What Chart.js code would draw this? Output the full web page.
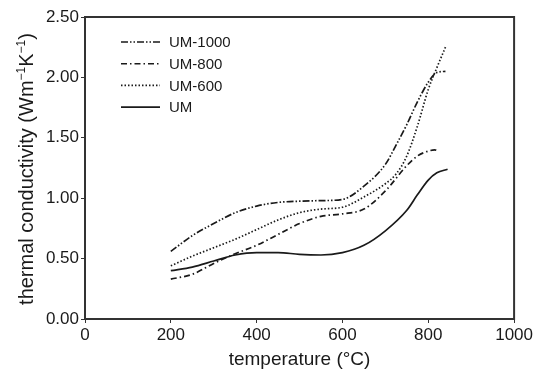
<!DOCTYPE html>
<html>
<head>
<meta charset="utf-8">
<script src="https://cdn.jsdelivr.net/npm/chart.js@4/dist/chart.umd.min.js"></script>
<style>
  html, body { margin: 0; padding: 0; background: #fff; }
  #wrap { width: 535px; height: 371px; }
</style>
</head>
<body>
<div id="wrap"><canvas id="chartTc" width="535" height="371"></canvas></div>
<script>
// Data
const seriesNames = ['UM-1000', 'UM-800', 'UM-600', 'UM'];

const tempUM1000 = [200, 250, 300, 350, 400, 450, 500, 550, 600, 650, 700, 725, 750, 775, 800, 820, 840];
const valsUM1000 = [0.56, 0.69, 0.79, 0.88, 0.935, 0.965, 0.975, 0.98, 0.99, 1.10, 1.28, 1.44, 1.61, 1.80, 1.96, 2.04, 2.05];

const tempUM800 = [200, 250, 300, 350, 400, 450, 500, 550, 600, 650, 700, 750, 775, 800, 815, 825];
const valsUM800 = [0.33, 0.37, 0.46, 0.54, 0.61, 0.70, 0.79, 0.85, 0.87, 0.91, 1.06, 1.27, 1.35, 1.39, 1.40, 1.385];

const tempUM600 = [200, 250, 300, 350, 400, 450, 500, 550, 600, 650, 700, 725, 750, 775, 800, 820, 840];
const valsUM600 = [0.44, 0.52, 0.59, 0.66, 0.74, 0.82, 0.88, 0.91, 0.925, 1.01, 1.12, 1.20, 1.35, 1.60, 1.90, 2.08, 2.25];

const tempUM = [200, 250, 300, 350, 400, 450, 500, 550, 600, 650, 700, 750, 775, 800, 820, 845];
const valsUM = [0.40, 0.43, 0.48, 0.53, 0.55, 0.55, 0.535, 0.53, 0.55, 0.61, 0.73, 0.90, 1.03, 1.15, 1.21, 1.24];

const xTicks = [0, 200, 400, 600, 800, 1000];
const yTicks = [0, 0.5, 1.0, 1.5, 2.0, 2.5];

const toPoints = (xs, ys) => xs.map((x, i) => ({ x: x, y: ys[i] }));

const ink = '#1a1a1a';
const fam = '"Liberation Sans", Arial, sans-serif';
const dashes = [[7, 2, 1.5, 2, 1.5, 2], [6, 3, 1.5, 3], [1.5, 2], []];

// y title with real superscripts: [text, isSuperscript]
const yTitleParts = [['thermal conductivity (Wm', false], ['−1', true], ['K', false], ['−1', true], [')', false]];

// Frame round the plot, the inside legend and the y title
const frameAndLegend = {
    id: 'frameAndLegend',
    afterDraw(chart) {
        const { ctx, chartArea } = chart;
        ctx.save();
        ctx.strokeStyle = '#333';
        ctx.lineWidth = 2;
        ctx.strokeRect(chartArea.left, chartArea.top, chartArea.right - chartArea.left, chartArea.bottom - chartArea.top);

        ctx.font = '15px ' + fam;
        ctx.textBaseline = 'middle';
        ctx.fillStyle = ink;
        chart.data.datasets.forEach((ds, i) => {
            const y = 42 + i * 21.7;
            ctx.beginPath();
            ctx.setLineDash(ds.borderDash);
            ctx.strokeStyle = ink;
            ctx.lineWidth = 1.6;
            ctx.moveTo(121, y);
            ctx.lineTo(160, y);
            ctx.stroke();
            ctx.setLineDash([]);
            ctx.fillText(ds.label, 169, y + 1);
        });

        // y title
        const big = '20px ' + fam, small = '12px ' + fam;
        let total = 0;
        yTitleParts.forEach(([t, sup]) => { ctx.font = sup ? small : big; total += ctx.measureText(t).width; });
        ctx.translate(26, (chartArea.top + chartArea.bottom) / 2 + 1);
        ctx.rotate(-Math.PI / 2);
        ctx.textBaseline = 'alphabetic';
        let x = -total / 2;
        yTitleParts.forEach(([t, sup]) => {
            ctx.font = sup ? small : big;
            ctx.fillText(t, x, sup ? -1 : 7);
            x += ctx.measureText(t).width;
        });
        ctx.restore();
    }
};

const makeSet = (label, pts, i) => ({
    label: label,
    data: pts,
    borderColor: ink,
    borderWidth: 1.7,
    borderDash: dashes[i],
    pointRadius: 0,
    fill: false,
    tension: 0.4,
    cubicInterpolationMode: 'monotone',
});

new Chart(document.getElementById('chartTc'), {
    type: 'line',
    data: {
        datasets: [
            makeSet(seriesNames[0], toPoints(tempUM1000, valsUM1000), 0),
            makeSet(seriesNames[1], toPoints(tempUM800, valsUM800), 1),
            makeSet(seriesNames[2], toPoints(tempUM600, valsUM600), 2),
            makeSet(seriesNames[3], toPoints(tempUM, valsUM), 3),
        ]
    },
    options: {
        responsive: false,
        animation: false,
        layout: { padding: { top: 17, right: 20, left: 0, bottom: 0 } },
        plugins: {
            legend: { display: false },
            tooltip: { enabled: false },
        },
        scales: {
            x: {
                type: 'linear',
                min: 0,
                max: 1000,
                afterBuildTicks: axis => { axis.ticks = xTicks.map(v => ({ value: v })); },
                afterFit: axis => { axis.height = 52; },
                ticks: {
                    color: ink,
                    font: { size: 17, family: fam },
                    padding: 2,
                    maxRotation: 0,
                    callback: v => String(v),
                },
                grid: { drawOnChartArea: false, drawTicks: true, tickLength: 4, color: '#333' },
                border: { color: '#333', width: 2 },
                title: {
                    display: true,
                    text: 'temperature (°C)',
                    color: ink,
                    font: { size: 19, family: fam },
                    padding: { top: 0, bottom: 0 },
                },
            },
            y: {
                min: 0,
                max: 2.5,
                afterBuildTicks: axis => { axis.ticks = yTicks.map(v => ({ value: v })); },
                afterFit: axis => { axis.width = 85; },
                ticks: {
                    color: ink,
                    font: { size: 17, family: fam },
                    padding: 2,
                    callback: v => v.toFixed(2),
                },
                grid: { drawOnChartArea: false, drawTicks: true, tickLength: 4, color: '#333' },
                border: { color: '#333', width: 2 },
                title: { display: false },
            }
        }
    },
    plugins: [frameAndLegend]
});
</script>
</body>
</html>
